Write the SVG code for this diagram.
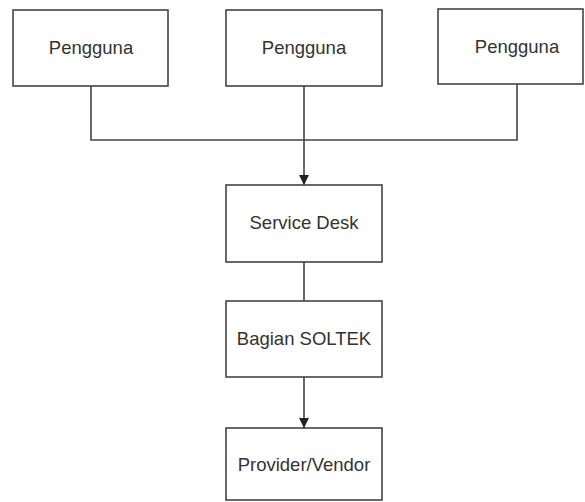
<svg xmlns="http://www.w3.org/2000/svg" width="585" height="502" viewBox="0 0 585 502">
<style>
.box{fill:#fff;stroke:#444;stroke-width:1.6}
.lbl{font-family:"Liberation Sans",Arial,sans-serif;font-size:18.5px;fill:#333;text-anchor:middle}
.ln{fill:none;stroke:#444;stroke-width:1.6}
</style>
<defs>
<marker id="ah" viewBox="0 0 10 10" refX="10" refY="5" markerWidth="10" markerHeight="10" markerUnits="userSpaceOnUse" orient="auto">
<path d="M0,0 L10,5 L0,10 Z" fill="#222"/>
</marker>
</defs>
<rect width="585" height="502" fill="#fff"/>
<g id="connectors">
<path class="ln" d="M91,86 V140 H517 V84"/>
<path class="ln" d="M304,86 V185" marker-end="url(#ah)"/>
<path class="ln" d="M304,262 V301"/>
<path class="ln" d="M304,377 V428" marker-end="url(#ah)"/>
</g>
<g id="pengguna1"><rect class="box" x="13" y="10" width="155" height="76"/><text class="lbl" x="91" y="54">Pengguna</text></g>
<g id="pengguna2"><rect class="box" x="226" y="10" width="156" height="76"/><text class="lbl" x="304" y="54">Pengguna</text></g>
<g id="pengguna3"><rect class="box" x="438" y="9" width="145" height="75"/><text class="lbl" x="517" y="53">Pengguna</text></g>
<g id="servicedesk"><rect class="box" x="226" y="185" width="156" height="77"/><text class="lbl" x="304" y="229">Service Desk</text></g>
<g id="soltek"><rect class="box" x="226" y="301" width="156" height="76"/><text class="lbl" x="304" y="345">Bagian SOLTEK</text></g>
<g id="vendor"><rect class="box" x="226" y="428" width="156" height="72"/><text class="lbl" x="304" y="471">Provider/Vendor</text></g>
</svg>
